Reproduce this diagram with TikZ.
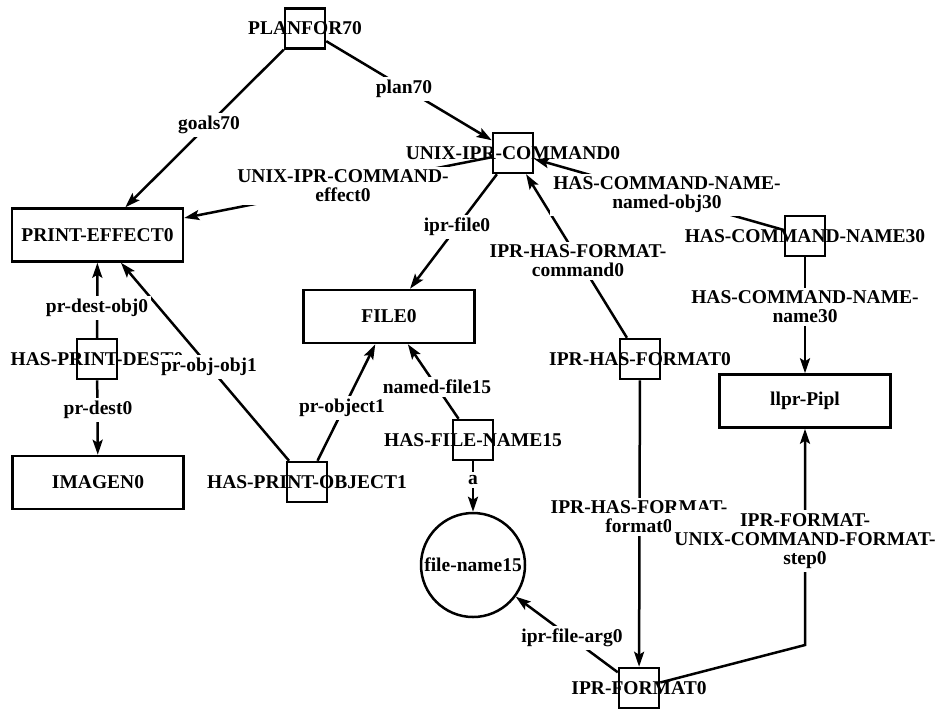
\documentclass[tikz,border=0pt]{standalone}
\usepackage{fontspec}
\setmainfont{Liberation Serif}
\usetikzlibrary{arrows.meta}
\begin{document}
\begin{tikzpicture}[x=1pt,y=-1pt,
  font=\fontsize{19.5}{19}\selectfont\bfseries,
  sbox/.style={draw, line width=2.5pt, minimum width=40pt, minimum height=40pt, inner sep=0pt},
  rbox/.style={draw, line width=2.5pt, minimum width=171pt, minimum height=53pt, inner sep=0pt},
  cnode/.style={draw, circle, line width=2.5pt, minimum size=104pt, inner sep=0pt},
  txt/.style={inner sep=0pt},
  lbl/.style={fill=white, inner sep=3pt, align=center},
  arr/.style={line width=2.5pt, -{Stealth[length=15pt,width=10pt,inset=3pt]}},
]
\useasboundingbox (0,0) rectangle (941,710);

% small boxes
\node[sbox] (plan) at (305,28.5) {};
\node[sbox] (unix) at (513,153) {};
\node[sbox] (hcn) at (805,236) {};
\node[sbox] (ihf) at (640,359) {};
\node[sbox] (hpd) at (97,359) {};
\node[sbox] (hpo) at (307,482) {};
\node[sbox] (hfn) at (473,440) {};
\node[sbox] (ipf) at (639,688) {};

% box texts
\node[txt] (plant) at (plan) {PLANFOR70};
\node[txt] (unixt) at (unix) {UNIX-IPR-COMMAND0};
\node[txt] (hcnt) at (hcn) {HAS-COMMAND-NAME30};
\node[txt] (ihft) at (ihf) {IPR-HAS-FORMAT0};
\node[txt] (hpdt) at (hpd) {HAS-PRINT-DEST0};
\node[txt] (hpot) at (hpo) {HAS-PRINT-OBJECT1};
\node[txt] (hfnt) at (hfn) {HAS-FILE-NAME15};
\node[txt] (ipft) at (ipf) {IPR-FORMAT0};

% rectangles and circle
\node[rbox] (pe) at (97.5,235) {PRINT-EFFECT0};
\node[rbox] (file) at (389,316.5) {FILE0};
\node[rbox] (img) at (98,482.5) {IMAGEN0};
\node[rbox] (lp) at (805,401) {llpr-Pipl};
\node[cnode] (fn) at (473,565) {file-name15};

\coordinate (bend) at (805,645);

% connectors
\draw[arr] (plan) -- (pe);
\draw[arr] (plan) -- (unix);
\draw[arr] (unix) -- (pe);
\draw[arr] (unix) -- (file);
\draw[arr] (ihf) -- (unix);
\draw[arr] (hcn) -- (unix);
\draw[arr] (hcn) -- (lp);
\draw[arr] (hpd) -- (pe);
\draw[arr] (hpd) -- (img);
\draw[arr] (hpo) -- (pe);
\draw[arr] (hpo) -- (file);
\draw[arr] (hfn) -- (file);
\draw[arr] (hfn) -- (fn);
\draw[arr] (ihf) -- (ipf);
\draw[arr] (ipf) -- (fn);
\draw[arr, line join=miter] (ipf) -- (bend) -- (lp);

% connector labels
\node[lbl] (l1) at (209,125) {goals70};
\node[lbl] (l2) at (404,89) {plan70};
\node[lbl] (l3) at (343,186) {UNIX-IPR-COMMAND-\\effect0};
\node[lbl] (l4) at (457,227) {ipr-file0};
\node[lbl] (l5) at (578,261) {IPR-HAS-FORMAT-\\command0};
\node[lbl] (l6) at (667,195) {HAS-COMMAND-NAME-\\named-obj30};
\node[lbl] (l7) at (805,307) {HAS-COMMAND-NAME-\\name30};
\node[lbl] (l8) at (97,308) {pr-dest-obj0};
\node[lbl] (l9) at (98,410) {pr-dest0};
\node[lbl] (l10) at (209,367) {pr-obj-obj1};
\node[lbl] (l11) at (342,408) {pr-object1};
\node[lbl] (l12) at (437,387) {named-file15};
\node[lbl] (l13) at (473,480) {a};
\node[lbl] (l14) at (639,517) {IPR-HAS-FORMAT-\\format0};
\node[lbl] (l15) at (572,638) {ipr-file-arg0};
\node[lbl] (l16) at (805,541) {IPR-FORMAT-\\UNIX-COMMAND-FORMAT-\\step0};
\end{tikzpicture}
\end{document}
